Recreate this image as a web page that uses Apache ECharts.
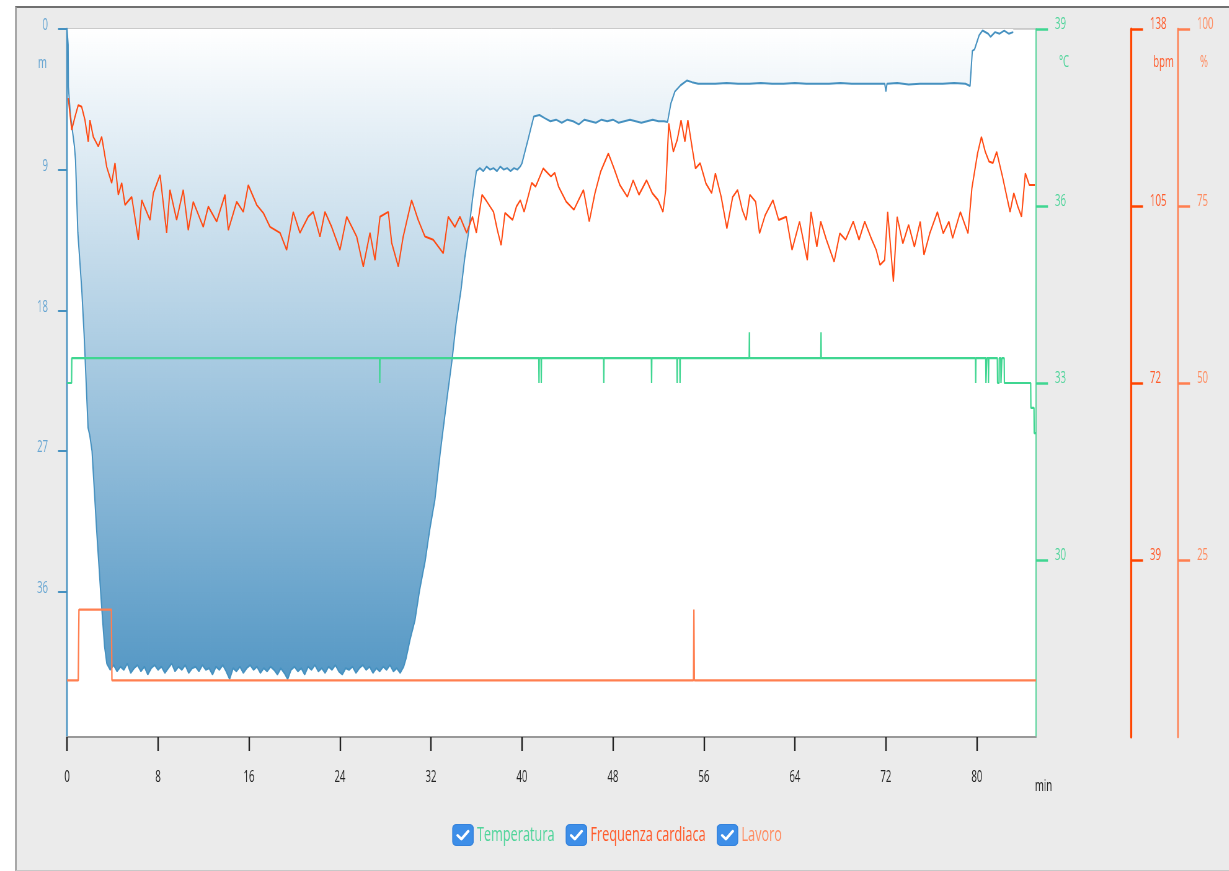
<!DOCTYPE html>
<html><head><meta charset="utf-8">
<script src="https://cdn.jsdelivr.net/npm/echarts@6/dist/echarts.min.js"></script>
<style>
html,body{margin:0;padding:0;background:#fff;overflow:hidden;width:1229px;height:871px;}
#panel{position:absolute;left:15px;top:6px;width:1220px;height:865px;background:#ebebeb;border-top:2px solid #707070;border-left:2px solid #a8a8a8;border-bottom:1px solid #c8c8c8;box-sizing:border-box;}
#chart{position:absolute;left:0;top:0;height:871px;transform-origin:0 0;}
</style></head><body>
<div id="panel"></div><div id="chart"></div>
<script>
// ---- data ----
const timeTicks = [0, 8, 16, 24, 32, 40, 48, 56, 64, 72, 80];
const depthTicks = [0, 9, 18, 27, 36];
const tempTicks = [30, 33, 36, 39];
const bpmTicks = [39, 72, 105, 138];
const workTicks = [25, 50, 75, 100];
const legendNames = ['Temperatura', 'Frequenza cardiaca', 'Lavoro'];

// depth [min, m]
const depthData = [
[0,0],[0.1,1.0],[0.12,3.7],[0.3,5.5],[0.65,7.5],[0.75,8.4],[0.95,13.0],[1.3,16.7],[1.5,19.5],[1.85,25.5],[2.0,26.0],[2.2,27.0],[2.6,32.0],[3.0,36.5],[3.3,39.5],[3.5,40.6],
[3.8,41.0],[4.1,40.7],[4.4,41.1],[4.7,40.8],[5.0,41.0],[5.3,40.6],[5.6,41.2],[5.9,40.9],[6.2,40.7],[6.5,41.1],[6.8,40.8],[7.1,41.3],[7.4,40.9],[7.7,40.7],[8.0,41.0],[8.3,40.8],[8.6,41.2],[8.9,40.9],[9.2,40.6],[9.5,41.1],[9.8,40.8],[10.1,41.0],[10.4,40.7],[10.7,41.2],[11.0,40.9],[11.3,40.8],[11.6,41.1],[11.9,40.7],[12.2,41.0],[12.5,40.9],[12.8,41.3],[13.1,40.8],[13.4,41.0],[13.7,40.7],[14.0,41.1],[14.3,41.6],[14.6,40.9],[14.9,41.1],[15.2,40.8],[15.5,41.2],[15.8,40.9],[16.1,40.7],[16.4,41.0],[16.7,40.8],[17.0,41.2],[17.3,40.9],[17.6,41.1],[17.9,40.8],[18.2,41.0],[18.5,41.3],[18.8,40.9],[19.1,41.2],[19.4,41.6],[19.7,41.0],[20.0,40.8],[20.3,41.1],[20.6,40.9],[20.9,41.3],[21.2,40.8],[21.5,41.0],[21.8,40.7],[22.1,41.1],[22.4,40.9],[22.7,41.2],[23.0,40.8],[23.3,41.0],[23.6,40.7],[23.9,41.1],[24.2,41.3],[24.5,40.9],[24.8,41.0],[25.1,40.8],[25.4,41.2],[25.7,40.9],[26.0,40.7],[26.3,41.0],[26.6,40.8],[26.9,41.2],[27.2,40.9],[27.5,41.1],[27.8,40.8],[28.1,41.0],[28.4,40.7],[28.7,41.1],[29.0,40.9],[29.3,41.2],[29.6,40.8],
[29.8,40.3],[30.15,39.1],[30.6,37.8],[31.0,35.9],[31.5,34.0],[31.9,32.0],[32.35,30.1],[32.8,27.2],[33.4,23.7],[33.85,21.2],[34.2,18.9],[34.64,16.7],[34.98,14.6],[35.31,13.0],[35.65,10.9],[35.99,9.1],
[36.3,8.9],[36.6,9.1],[36.9,8.8],[37.2,9.0],[37.5,8.9],[37.8,9.1],[38.1,8.8],[38.4,9.0],[38.7,8.9],[39.0,9.1],[39.3,8.9],[39.6,9.0],[39.85,8.8],[40.0,8.6],
[40.53,7.1],[41.04,5.6],[41.54,5.5],[42.0,5.7],[42.5,5.9],[43.0,5.8],[43.5,6.0],[44.0,5.8],[44.5,5.9],[45.0,6.1],[45.5,5.8],[46.0,5.9],[46.5,6.0],[47.0,5.8],[47.5,5.9],[48.0,5.8],[48.5,6.0],[49.0,5.9],[49.5,5.8],[50.0,5.9],[50.5,6.0],[51.0,5.9],[51.5,5.8],[52.0,5.9],[52.5,5.9],[52.8,5.95],
[53.1,4.75],[53.45,4.0],[53.95,3.6],[54.5,3.3],[54.95,3.4],[55.5,3.5],[56.3,3.5],[57,3.5],[58,3.45],[59,3.5],[60,3.5],[61,3.45],[62,3.5],[63,3.5],[64,3.45],[65,3.5],[66,3.5],[67,3.5],[68,3.45],[69,3.5],[70,3.5],[71,3.5],[71.9,3.5],[72.0,4.0],[72.1,3.5],[73,3.45],[74,3.55],[75,3.5],[76,3.5],[77,3.5],[78,3.45],[79,3.5],[79.4,3.65],
[79.6,1.4],[79.8,1.3],[80.2,0.4],[80.5,0.1],[81.0,0.3],[81.2,0.5],[81.6,0.2],[82.0,0.3],[82.4,0.1],[82.8,0.3],[83.2,0.2]
];

// temperature [min, °C]
const tempData = [
[0,33.0],[0.4,33.0],[0.42,33.42],
[27.48,33.42],[27.5,33.0],[27.52,33.42],
[41.48,33.42],[41.5,33.0],[41.52,33.42],[41.68,33.42],[41.7,33.0],[41.72,33.42],
[47.18,33.42],[47.2,33.0],[47.22,33.42],
[51.38,33.42],[51.4,33.0],[51.42,33.42],
[53.63,33.42],[53.65,33.0],[53.67,33.42],[53.88,33.42],[53.9,33.0],[53.92,33.42],
[59.98,33.42],[60.0,33.86],[60.02,33.42],
[66.28,33.42],[66.3,33.86],[66.32,33.42],
[79.88,33.42],[79.9,33.0],[79.92,33.42],
[80.78,33.42],[80.8,33.0],[80.85,33.0],[80.87,33.42],[81.0,33.42],[81.02,33.0],[81.05,33.42],
[81.8,33.42],[81.82,33.0],[81.95,33.0],[81.97,33.42],[82.1,33.42],[82.12,33.0],[82.2,33.42],[82.4,33.42],[82.42,33.0],
[84.73,33.0],[84.75,32.58],[85.02,32.58],[85.04,32.15],[85.2,32.15]
];

// heart rate [min, bpm]
const hrData = [
[0.11,125.1],[0.41,119.2],[0.70,121.6],[0.99,123.8],[1.29,123.5],[1.58,121.0],[1.87,117.0],[2.02,121.0],[2.31,117.9],[2.75,116.1],[3.05,117.9],[3.49,112.3],[3.93,109.3],[4.22,113.0],[4.51,107.1],[4.81,109.3],[5.10,105.2],[5.69,106.7],[6.27,98.7],[6.57,106.1],[7.30,102.4],[7.59,107.4],[8.18,110.8],[8.76,100.0],[9.05,108.0],[9.64,102.4],[10.22,108.0],[10.66,100.5],[11.10,105.8],[11.98,101.1],[12.42,104.9],[13.16,102.1],[13.89,107.1],[14.18,100.5],[14.92,105.8],[15.50,103.9],[15.94,108.9],[16.68,105.2],[17.26,103.7],[17.85,101.1],[18.73,100.0],[19.31,96.8],[19.89,103.9],[20.48,100.0],[21.21,103.0],[21.65,103.9],[22.24,99.3],[22.68,103.9],[23.27,101.1],[24.00,96.8],[24.59,103.0],[25.47,99.3],[26.05,93.7],[26.64,100.0],[27.08,94.9],[27.52,103.0],[28.25,103.9],[28.55,98.1],[29.13,93.7],[29.56,99.3],[30.30,106.1],[30.88,102.4],[31.47,99.3],[32.20,98.7],[33.08,96.2],[33.52,103.0],[34.11,101.1],[34.55,103.0],[35.14,100.0],[35.65,103.0],[35.99,100.0],[36.49,107.1],[36.83,106.1],[37.50,103.9],[37.84,100.5],[38.17,97.7],[38.51,103.7],[39.18,102.4],[39.52,104.9],[39.86,106.1],[40.19,103.9],[40.86,109.3],[41.20,108.6],[41.87,112.0],[42.55,110.5],[42.88,111.2],[43.22,108.6],[43.89,105.8],[44.57,104.3],[45.41,108.0],[45.92,102.1],[46.42,107.4],[46.92,111.4],[47.60,114.8],[48.10,112.0],[48.61,108.9],[49.27,106.7],[49.78,109.8],[50.29,107.1],[50.96,109.8],[51.46,107.4],[51.97,106.1],[52.40,103.9],[52.64,108.0],[52.91,120.4],[53.31,115.1],[53.65,117.3],[53.99,121.0],[54.33,117.0],[54.59,121.0],[55.00,115.4],[55.26,112.0],[55.67,113.0],[56.18,109.2],[56.68,107.4],[57.01,111.1],[57.52,106.7],[58.02,100.8],[58.53,106.7],[58.96,108.0],[59.37,104.3],[59.71,102.4],[60.04,107.1],[60.55,105.8],[60.89,99.9],[61.39,103.3],[62.07,106.1],[62.57,102.4],[63.24,103.0],[63.75,96.8],[64.41,102.1],[65.09,94.9],[65.42,103.9],[65.93,97.4],[66.27,102.1],[66.77,98.7],[67.45,94.6],[67.95,99.9],[68.46,98.7],[69.13,102.1],[69.64,98.7],[70.14,102.1],[70.65,99.3],[71.15,96.8],[71.48,94.0],[71.89,94.9],[72.16,103.9],[72.66,90.9],[72.99,103.0],[73.49,98.0],[74.00,101.5],[74.51,97.4],[75.02,102.1],[75.35,95.9],[75.86,99.9],[76.53,103.9],[77.04,99.9],[77.54,102.1],[77.87,99.0],[78.55,103.9],[79.22,99.9],[79.56,108.3],[80.06,114.8],[80.40,117.9],[80.74,115.1],[81.07,113.3],[81.41,113.0],[81.74,115.1],[82.25,110.5],[82.92,103.9],[83.25,107.4],[83.60,104.9],[83.93,103.0],[84.26,111.1],[84.61,108.9],[85.10,108.9]
];

// work [min, %]
const workData = [[0,8],[0.99,8],[1.05,18],[3.9,18],[3.95,8],[55.08,8],[55.12,18],[55.16,8],[85.2,8]];

// ---- layout: the chart is drawn wide and squeezed horizontally ----
const W = 1229, H = 871, S = 0.62;
const CW = W / S;               // canvas width before squeeze
const X = v => v / S;           // screen px -> canvas px (horizontal)
const el = document.getElementById('chart');
el.style.width = CW + 'px';
el.style.transform = 'scaleX(' + S + ')';

const FONT = "'Open Sans','Noto Sans',sans-serif";
const FS = 15.5;
const C_DEPTH = '#4691c0', C_DEPTH_TXT = '#68a6d2';
const C_TEMP = '#3fd691', C_TEMP_TXT = '#4fd49a';
const C_HR = '#ff4a12', C_HR_TXT = '#ff5a2a';
const C_WORK = '#ff7f50', C_WORK_TXT = '#ff8a5e';

// checkbox icon, pre-stretched so it becomes square after the squeeze
const iconW = Math.round(X(22));
const svg = "<svg xmlns='http://www.w3.org/2000/svg' width='" + iconW + "' height='22' viewBox='0 0 22 22' preserveAspectRatio='none'><rect x='0.5' y='0.5' width='21' height='21' rx='4' ry='4' fill='#3d8ee8' stroke='#3482dc'/><path d='M5.6 11.4 L9.4 15.2 L16.4 7.2' fill='none' stroke='#ffffff' stroke-width='2.6' stroke-linecap='round' stroke-linejoin='round'/></svg>";
const checkIcon = 'image://data:image/svg+xml;charset=utf-8,' + encodeURIComponent(svg);

function rightAxis(min, max, interval, ticks, offset, color, txtColor, lineWidth) {
  return {
    type: 'value', position: 'right', offset: X(offset), min: min, max: max, interval: interval,
    axisLine: { show: true, onZero: false, lineStyle: { color: color, width: X(lineWidth) } },
    axisTick: { show: true, length: X(12), lineStyle: { color: color, width: 2.5 }, customValues: ticks },
    axisLabel: { color: txtColor, fontSize: FS, fontFamily: FONT, margin: X(19), verticalAlign: 'bottom', lineHeight: 9, customValues: ticks },
    splitLine: { show: false }
  };
}

const chart = echarts.init(el, null, { renderer: 'canvas', width: CW, height: H });
chart.setOption({
  animation: false,
  backgroundColor: 'transparent',
  grid: { left: X(67), right: CW - X(1036), top: 29, bottom: H - 737, show: true, backgroundColor: '#ffffff', borderColor: '#a8a8a8', borderWidth: 1, containLabel: false, outerBoundsMode: 'none' },
  legend: {
    left: X(449), top: 819, itemWidth: iconW, itemHeight: 22, itemGap: X(11), icon: checkIcon,
    textStyle: { fontFamily: FONT, fontSize: 20.5 },
    data: [
      { name: legendNames[0], textStyle: { color: C_TEMP_TXT } },
      { name: legendNames[1], textStyle: { color: C_HR_TXT } },
      { name: legendNames[2], textStyle: { color: C_WORK_TXT } }
    ]
  },
  xAxis: {
    type: 'value', min: 0, max: 85.2, interval: 8,
    axisLine: { onZero: false, lineStyle: { color: '#999999', width: 2 } },
    axisTick: { show: true, length: 14, lineStyle: { color: '#222222', width: X(1.5) }, customValues: timeTicks },
    axisLabel: { color: '#222222', fontSize: FS, fontFamily: FONT, margin: 33, customValues: timeTicks },
    splitLine: { show: false }
  },
  yAxis: [
    {
      type: 'value', position: 'left', inverse: true, min: 0, max: 45.3, interval: 9,
      axisLine: { show: true, onZero: false, lineStyle: { color: C_DEPTH, width: X(1.5) } },
      axisTick: { show: true, length: X(9), lineStyle: { color: C_DEPTH, width: 2 }, customValues: depthTicks },
      axisLabel: { color: C_DEPTH_TXT, fontSize: FS, fontFamily: FONT, margin: X(19), verticalAlign: 'bottom', lineHeight: 6, customValues: depthTicks },
      splitLine: { show: false }
    },
    rightAxis(27, 39, 3, tempTicks, 0, C_TEMP, C_TEMP_TXT, 1),
    rightAxis(6, 138, 33, bpmTicks, 95, '#ff4500', C_HR_TXT, 2),
    rightAxis(0, 100, 25, workTicks, 142, C_WORK, C_WORK_TXT, 1.5)
  ],
  graphic: [
    { type: 'text', x: X(42.5), y: 64, silent: true, style: { text: 'm', fill: C_DEPTH_TXT, font: FS + 'px ' + FONT, align: 'center', verticalAlign: 'middle' } },
    { type: 'text', x: X(1064), y: 63, silent: true, style: { text: '°C', fill: C_TEMP_TXT, font: FS + 'px ' + FONT, align: 'center', verticalAlign: 'middle' } },
    { type: 'text', x: X(1163.5), y: 63, silent: true, style: { text: 'bpm', fill: C_HR_TXT, font: FS + 'px ' + FONT, align: 'center', verticalAlign: 'middle' } },
    { type: 'text', x: X(1204), y: 63, silent: true, style: { text: '%', fill: C_WORK_TXT, font: FS + 'px ' + FONT, align: 'center', verticalAlign: 'middle' } },
    { type: 'text', x: X(1043.5), y: 787, silent: true, style: { text: 'min', fill: '#222222', font: FS + 'px ' + FONT, align: 'center', verticalAlign: 'middle' } }
  ],
  series: [
    {
      name: 'Profondità', type: 'line', yAxisIndex: 0, data: depthData, symbol: 'none', z: 1,
      lineStyle: { color: C_DEPTH, width: 2 }, itemStyle: { color: C_DEPTH },
      areaStyle: { opacity: 1, color: new echarts.graphic.LinearGradient(0, 0, 0, 1, [
        { offset: 0, color: '#ffffff' }, { offset: 1, color: '#5598c5' }]) }
    },
    { name: legendNames[0], type: 'line', yAxisIndex: 1, data: tempData, symbol: 'none', z: 3,
      lineStyle: { color: C_TEMP, width: 2.2 }, itemStyle: { color: C_TEMP } },
    { name: legendNames[1], type: 'line', yAxisIndex: 2, data: hrData, symbol: 'none', z: 4,
      lineStyle: { color: C_HR, width: 2 }, itemStyle: { color: C_HR } },
    { name: legendNames[2], type: 'line', yAxisIndex: 3, data: workData, symbol: 'none', z: 2,
      lineStyle: { color: C_WORK, width: 2.3 }, itemStyle: { color: C_WORK } }
  ]
});
</script></body></html>
